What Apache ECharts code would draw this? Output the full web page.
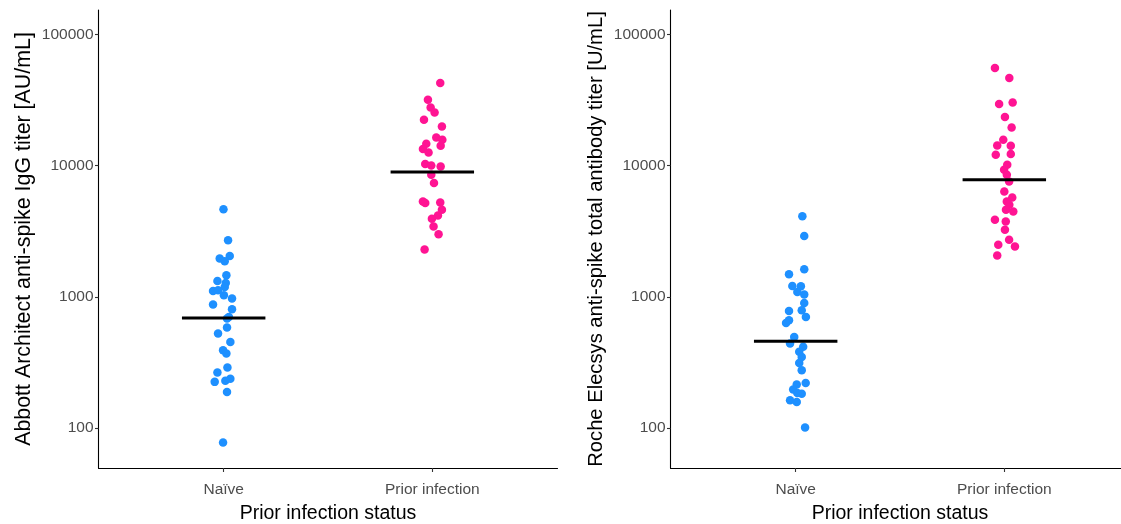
<!DOCTYPE html>
<html>
<head>
<meta charset="utf-8">
<script src="https://cdn.jsdelivr.net/npm/echarts@6/dist/echarts.min.js"></script>
<style>
html,body{margin:0;padding:0;background:#fff;}
#chart{width:1121px;height:524px;}
</style>
</head>
<body>
<div id="chart"></div>
<script>
// ---- data ----
var categories = ['Naïve', 'Prior infection'];
var yTickValues = [100, 1000, 10000, 100000];
var yLabels = ['Abbott Architect anti-spike IgG titer [AU/mL]', 'Roche Elecsys anti-spike total antibody titer [U/mL]'];
var xTitle = 'Prior infection status';

var abbottNaive = [4667,2707,1963,2054,1872,1464,1324,1279,1192,1111,1125,1030,972,875,806,704,684,584,526,454,392,370,289,265,238,229,225,188,77.5];
var abbottNaiveJitter = [-0.001,0.021,-0.019,0.029,0.005,0.013,-0.030,0.010,0.005,-0.051,-0.027,0.001,0.040,-0.051,0.040,0.025,0.016,0.016,-0.027,0.032,-0.003,0.013,0.018,-0.030,0.032,0.008,-0.043,0.016,-0.003];

var abbottPrior = [42730,31870,27850,25500,22430,19940,16440,15790,14720,14210,13410,12630,10300,10050,9880,8540,7380,5340,5190,5250,4620,4180,3940,3440,3010,2300];
var abbottPriorJitter = [0.038,-0.021,-0.008,0.011,-0.040,0.046,0.019,0.048,-0.029,0.040,-0.045,-0.018,-0.034,-0.005,0.040,-0.005,0.008,-0.045,-0.034,0.038,0.046,0.027,-0.002,0.006,0.030,-0.037];

var rocheNaive = [4126,2919,1627,1490,1213,1207,1092,1043,900,792,782,704,664,633,495,441,416,381,348,314,276,221,215,197,183,185,163,158,101];
var rocheNaiveJitter = [0.032,0.041,0.041,-0.032,-0.016,0.025,0.008,0.041,0.041,0.029,-0.032,0.049,-0.032,-0.046,-0.007,-0.027,0.036,0.017,0.029,0.017,0.029,0.048,0.005,-0.012,0.029,0.008,-0.027,0.005,0.045];

var rochePrior = [55630,46670,29550,30400,23520,19600,15790,14280,14210,12130,12280,10180,9320,8540,7590,6370,5730,5340,5040,4480,4620,3870,3760,3250,2500,2730,2420,2070];
var rochePriorJitter = [-0.045,0.024,-0.025,0.040,0.003,0.035,-0.005,-0.034,0.031,-0.041,0.031,0.014,-0.001,0.012,0.023,0,0.038,0.012,0.024,0.043,0.008,-0.045,0.007,0.003,-0.029,0.023,0.051,-0.034];

var abbottMeans = [690, 8950];
var rocheMeans = [459, 7820];

// ---- styles ----
var yMin = 49.6, yMax = 154000;
var colors = ['#1E90FF', '#FF1493'];
var FONT = "'Liberation Sans', Arial, sans-serif";
var meanHalfWidth = 0.2;
var titleSizes = [21.4, 20.2];

function pts(vals, jit, idx) {
  return vals.map(function (v, i) { return [idx + 1 + jit[i], v]; });
}
function meanLine(mean, idx) {
  return [[idx + 1 - meanHalfWidth, mean], [idx + 1 + meanHalfWidth, mean]];
}

function xAxis(gi) {
  return {
    type: 'value', gridIndex: gi, min: 0.4, max: 2.6,
    name: xTitle, nameLocation: 'middle', nameGap: 36,
    nameTextStyle: { fontFamily: FONT, fontSize: 19.5, color: '#000' },
    axisLine: { show: true, onZero: false, lineStyle: { color: '#000', width: 1.1 } },
    axisTick: { show: true, customValues: [1, 2], length: 4, lineStyle: { color: '#333', width: 1.1 } },
    axisLabel: { customValues: [1, 2], margin: 14, fontFamily: FONT, fontSize: 15.5, color: '#4D4D4D',
      formatter: function (v) { return categories[Math.round(v) - 1]; } },
    splitLine: { show: false }
  };
}
function yAxis(gi, title) {
  return {
    type: 'log', logBase: 10, gridIndex: gi, min: yMin, max: yMax,
    name: title, nameLocation: 'middle', nameGap: 64,
    nameTextStyle: { fontFamily: FONT, fontSize: titleSizes[gi], color: '#000' },
    axisLine: { show: true, lineStyle: { color: '#000', width: 1.1 } },
    axisTick: { show: true, customValues: yTickValues, length: 3.5, lineStyle: { color: '#333', width: 1.1 } },
    axisLabel: { customValues: yTickValues, margin: 5, fontFamily: FONT, fontSize: 15.5, color: '#4D4D4D',
      formatter: function (v) { return String(Math.round(v)); } },
    splitLine: { show: false }, minorTick: { show: false }
  };
}
function scatter(gi, vals, jit, idx) {
  return { type: 'scatter', xAxisIndex: gi, yAxisIndex: gi, data: pts(vals, jit, idx),
    symbolSize: 8.5, itemStyle: { color: colors[idx], opacity: 1 }, z: 2, silent: true };
}
function line(gi, mean, idx) {
  return { type: 'line', xAxisIndex: gi, yAxisIndex: gi, data: meanLine(mean, idx),
    symbol: 'none', lineStyle: { color: '#000', width: 3 }, z: 5, silent: true };
}

var chart = echarts.init(document.getElementById('chart'), null, { renderer: 'canvas' });
chart.setOption({
  animation: false,
  backgroundColor: '#fff',
  grid: [
    { left: 98.5, top: 10, width: 459, height: 458, containLabel: false, outerBoundsMode: 'none' },
    { left: 670.5, top: 10, width: 459, height: 458, containLabel: false, outerBoundsMode: 'none' }
  ],
  xAxis: [xAxis(0), xAxis(1)],
  yAxis: [yAxis(0, yLabels[0]), yAxis(1, yLabels[1])],
  series: [
    scatter(0, abbottNaive, abbottNaiveJitter, 0),
    scatter(0, abbottPrior, abbottPriorJitter, 1),
    scatter(1, rocheNaive, rocheNaiveJitter, 0),
    scatter(1, rochePrior, rochePriorJitter, 1),
    line(0, abbottMeans[0], 0),
    line(0, abbottMeans[1], 1),
    line(1, rocheMeans[0], 0),
    line(1, rocheMeans[1], 1)
  ]
});
</script>
</body>
</html>
